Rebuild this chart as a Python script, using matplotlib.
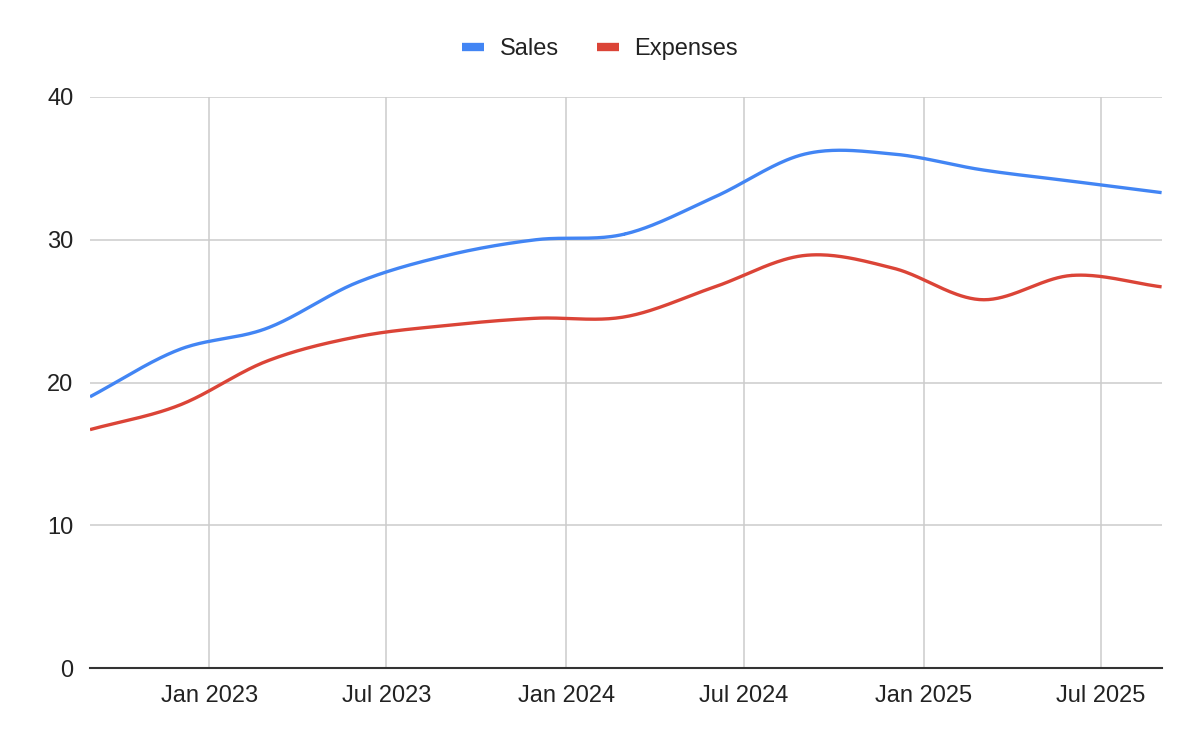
import numpy as np
import matplotlib
matplotlib.use("Agg")
import matplotlib.pyplot as plt
import matplotlib.dates as mdates
from matplotlib.lines import Line2D
from datetime import date

plt.rcParams["font.family"] = ["Liberation Sans", "DejaVu Sans"]

# quarterly data points
dates = ["2022-09-01", "2022-12-01", "2023-03-01", "2023-06-01", "2023-09-01",
         "2023-12-01", "2024-03-01", "2024-06-01", "2024-09-01", "2024-12-01",
         "2025-03-01", "2025-06-01", "2025-09-01"]
sales = [19.0, 22.3, 23.8, 27.0, 28.9, 30.0, 30.4, 33.0, 36.0, 36.0, 34.9, 34.1, 33.3]
expenses = [16.7, 18.4, 21.5, 23.2, 24.0, 24.5, 24.6, 26.7, 28.9, 28.0, 25.8, 27.5, 26.7]

tick_dates = ["2023-01-01", "2023-07-01", "2024-01-01", "2024-07-01", "2025-01-01", "2025-07-01"]
tick_labels = ["Jan 2023", "Jul 2023", "Jan 2024", "Jul 2024", "Jan 2025", "Jul 2025"]

BLUE = "#4285F4"
RED = "#DB4437"


def smooth(xs, ys, n=40):
    # Catmull-Rom spline through the points (like the "smooth" line option)
    x = np.asarray(xs, float)
    y = np.asarray(ys, float)
    px = np.concatenate([[2 * x[0] - x[1]], x, [2 * x[-1] - x[-2]]])
    py = np.concatenate([[2 * y[0] - y[1]], y, [2 * y[-1] - y[-2]]])
    t = np.linspace(0, 1, n)
    outx, outy = [], []
    for i in range(1, len(px) - 2):
        for p, out in ((px, outx), (py, outy)):
            p0, p1, p2, p3 = p[i - 1], p[i], p[i + 1], p[i + 2]
            out.append(0.5 * (2 * p1 + (-p0 + p2) * t
                              + (2 * p0 - 5 * p1 + 4 * p2 - p3) * t ** 2
                              + (-p0 + 3 * p1 - 3 * p2 + p3) * t ** 3))
    return np.concatenate(outx), np.concatenate(outy)


xnum = mdates.date2num([date.fromisoformat(d) for d in dates])
ticks = mdates.date2num([date.fromisoformat(d) for d in tick_dates])

fig = plt.figure(figsize=(12, 7.42), dpi=100)
ax = fig.add_axes([0.075, 0.0997, 0.893, 0.7696])

sx, sy = smooth(xnum, sales)
ex, ey = smooth(xnum, expenses)
ax.plot(sx, sy, color=BLUE, lw=2.4, solid_capstyle="butt", zorder=3)
ax.plot(ex, ey, color=RED, lw=2.4, solid_capstyle="butt", zorder=3)

ax.set_xlim(xnum[0], xnum[-1])
ax.set_ylim(0, 40)
ax.set_yticks([0, 10, 20, 30, 40])
ax.set_xticks(ticks)
ax.set_xticklabels(tick_labels)
ax.tick_params(axis="both", length=0, labelsize=17, colors="#222222")
ax.tick_params(axis="x", pad=12)
ax.tick_params(axis="y", pad=12)
ax.grid(True, color="#cccccc", lw=1.1)
ax.set_axisbelow(True)
for s in ["top", "right", "left"]:
    ax.spines[s].set_visible(False)
ax.spines["bottom"].set_color("#333333")
ax.spines["bottom"].set_linewidth(1.5)
ax.spines["bottom"].set_zorder(4)

handles = [Line2D([], [], color=BLUE, lw=6, solid_capstyle="butt"),
           Line2D([], [], color=RED, lw=6, solid_capstyle="butt")]
fig.legend(handles, ["Sales", "Expenses"], loc="center", bbox_to_anchor=(0.5, 1 - 49 / 742),
           ncol=2, frameon=False, fontsize=17, handlelength=0.95, handletextpad=0.65,
           columnspacing=1.6, labelcolor="#222222")

fig.savefig("out.png", dpi=100, facecolor="white")
